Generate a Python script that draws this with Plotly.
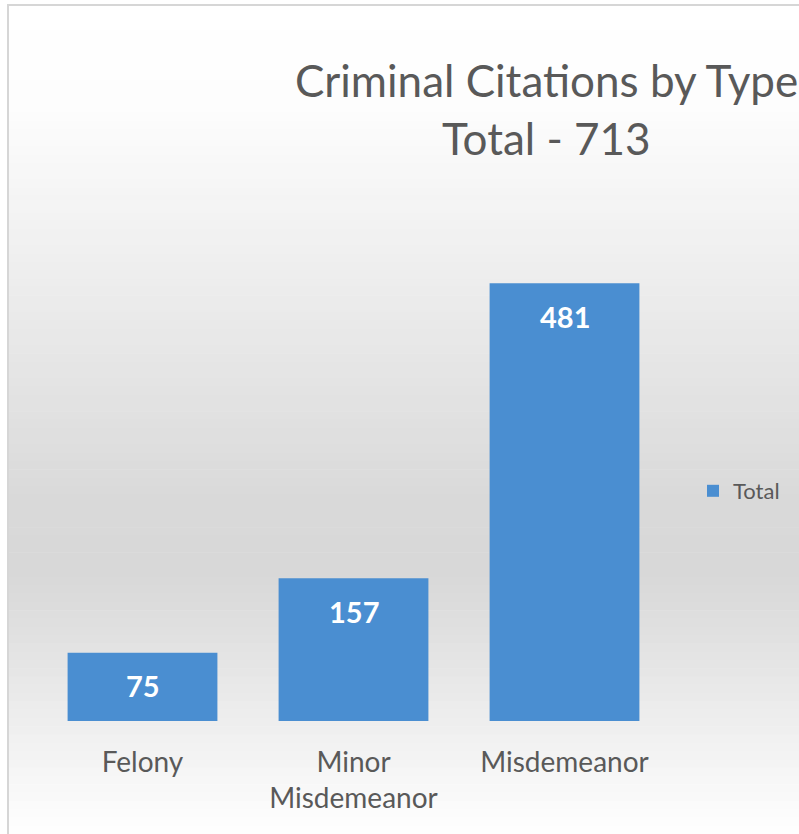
import plotly.graph_objects as go

categories = ["Felony", "Minor<br>Misdemeanor", "Misdemeanor"]
values = [75, 157, 481]
series_name = "Total"
title_line1 = "Criminal Citations by Type"
title_line2 = "Total - 713"

W, H = 799, 834
L, R, T, B = 37, 129, 175, 113
PW, PH = W - L - R, H - T - B


def px2x(px):
    return (px - L) / PW


def py2y(py):
    return (H - B - py) / PH


def bg_gray(frac):
    stops = [(0.0, 255), (0.12, 253), (0.60, 217), (0.69, 216), (1.0, 255)]
    for (f0, c0), (f1, c1) in zip(stops[:-1], stops[1:]):
        if f0 <= frac <= f1:
            v = c0 + (c1 - c0) * (frac - f0) / (f1 - f0)
            return int(round(v))
    return 255


shapes = []
top_px, bot_px, left_px, right_px = 5, 834, 8, 900
n = 100
for i in range(n):
    y0 = top_px + (bot_px - top_px) * i / n
    y1 = top_px + (bot_px - top_px) * (i + 1) / n
    g = bg_gray((i + 0.5) / n)
    shapes.append(dict(type="rect", xref="paper", yref="paper",
                       x0=px2x(left_px), x1=px2x(right_px),
                       y0=py2y(y1 + 0.6), y1=py2y(y0),
                       fillcolor=f"rgb({g},{g},{g})", line=dict(width=0),
                       layer="below"))
shapes.append(dict(type="rect", xref="paper", yref="paper",
                   x0=px2x(left_px), x1=px2x(right_px),
                   y0=py2y(900), y1=py2y(top_px),
                   fillcolor="rgba(0,0,0,0)", line=dict(color="#D6D6D6", width=2),
                   layer="below"))

fig = go.Figure()
fig.add_trace(go.Bar(
    x=categories, y=values, name=series_name,
    marker=dict(color="#4A8ED1", line=dict(width=0)),
    width=0.71, showlegend=True, hoverinfo="x+y",
))

annotations = []
for c, v in zip(categories, values):
    annotations.append(dict(x=c, y=v, xref="x", yref="y", text=str(v),
                            showarrow=False, yanchor="middle", yshift=-33,
                            font=dict(family="Lato", size=29, color="white", weight=700)))

annotations.append(dict(xref="paper", yref="paper", x=px2x(546), y=py2y(80),
                        text=title_line1, showarrow=False, xanchor="center", yanchor="middle",
                        font=dict(family="Lato", size=44, color="#595959")))
annotations.append(dict(xref="paper", yref="paper", x=px2x(546), y=py2y(138),
                        text=title_line2, showarrow=False, xanchor="center", yanchor="middle",
                        font=dict(family="Lato", size=44, color="#595959")))

fig.update_layout(
    width=W, height=H,
    margin=dict(l=L, r=R, t=T, b=B, pad=0),
    paper_bgcolor="white",
    plot_bgcolor="rgba(0,0,0,0)",
    font=dict(family="Lato", color="#595959"),
    shapes=shapes,
    annotations=annotations,
    showlegend=True,
    legend=dict(x=px2x(693), y=py2y(491), xanchor="left", yanchor="middle",
                bgcolor="rgba(0,0,0,0)", font=dict(family="Lato", size=22, color="#595959")),
    xaxis=dict(showgrid=False, showline=False, zeroline=False, ticks="",
               tickfont=dict(family="Lato", size=28, color="#595959"),
               ticklabelstandoff=22, fixedrange=True),
    yaxis=dict(range=[0, 600], visible=False, showgrid=False, zeroline=False, fixedrange=True),
    bargap=0.29,
)

fig.write_html("out.html", config={"displayModeBar": False},
               post_script="document.body.style.margin='0';document.body.style.overflow='hidden';")
